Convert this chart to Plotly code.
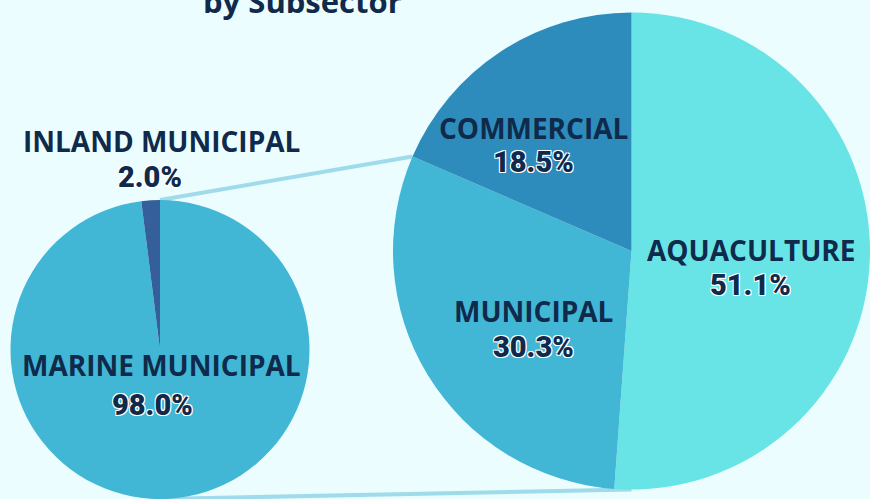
import math
import plotly.graph_objects as go

W, H = 870, 499

# ---- data ----
left_labels = ["MARINE MUNICIPAL", "INLAND MUNICIPAL"]
left_values = [98.0, 2.0]
right_labels = ["AQUACULTURE", "MUNICIPAL", "COMMERCIAL"]
right_values = [51.1, 30.3, 18.5]
title_text = "by Subsector"

# ---- styles ----
BG = "#ebfdfe"
NAVY = "#0f2a4b"
left_colors = ["#42b7d5", "#355f9b"]
right_colors = ["#68e4e7", "#42b7d5", "#2e8cbc"]
LINK = "#9fdbea"

# pie domains in pixels (x0, x1, ytop, ybottom)
L_dom = (10, 310, 200, 499)
R_dom = (393, 870, 11, 491)


def xd(px):
    return px / W


def yd(py):
    return 1 - py / H


fig = go.Figure()
for labels, values, colors, dom in [
    (left_labels, left_values, left_colors, L_dom),
    (right_labels, right_values, right_colors, R_dom),
]:
    fig.add_trace(go.Pie(
        labels=labels, values=values, sort=False, direction="clockwise",
        rotation=0, textinfo="none", hoverinfo="label+value",
        marker=dict(colors=colors, line=dict(width=0)),
        domain=dict(x=[xd(dom[0]), xd(dom[1])], y=[yd(dom[3]), yd(dom[2])]),
        showlegend=False,
    ))


def geom(dom):
    w = dom[1] - dom[0]
    h = dom[3] - dom[2]
    r = min(w, h) / 2
    return (dom[0] + dom[1]) / 2, (dom[2] + dom[3]) / 2, r


lcx, lcy, lr = geom(L_dom)
rcx, rcy, rr = geom(R_dom)

# connector: left pie top -> right pie Municipal/Commercial boundary
frac = sum(right_values[:2]) / sum(right_values)
ang = 2 * math.pi * frac
ex = rcx + rr * math.sin(ang)
ey = rcy - rr * math.cos(ang)
fig.add_shape(type="line", xref="paper", yref="paper",
              x0=xd(lcx), y0=yd(lcy - lr), x1=xd(ex), y1=yd(ey),
              line=dict(color=LINK, width=4), layer="below")
# connector: left pie bottom -> right pie bottom
fig.add_shape(type="line", xref="paper", yref="paper",
              x0=xd(lcx), y0=yd(lcy + lr), x1=xd(rcx), y1=yd(rcy + rr),
              line=dict(color=LINK, width=4), layer="below")

CAT_FONT = dict(family="Open Sans", size=28, color=NAVY, weight=700)
PCT_FONT = dict(family="Roboto", size=29, color=NAVY, weight=900,
                shadow="1px 1px 0 #ffffff, -1px -1px 0 #ffffff, 1px -1px 0 #ffffff, -1px 1px 0 #ffffff")

# label positions (pixels): (cat_x, cat_y, pct_x, pct_y)
label_pos = {
    "INLAND MUNICIPAL": (161, 141, 150, 177),
    "MARINE MUNICIPAL": (161, 365, 152, 405),
    "COMMERCIAL": (533, 128, 533, 162),
    "AQUACULTURE": (751, 250, 750, 285),
    "MUNICIPAL": (533, 311, 533, 347),
}

for labels, values in [(left_labels, left_values), (right_labels, right_values)]:
    for lab, v in zip(labels, values):
        cx, cy, px_, py_ = label_pos[lab]
        fig.add_annotation(text=lab, x=xd(cx), y=yd(cy), xref="paper", yref="paper",
                           showarrow=False, xanchor="center", yanchor="middle", font=CAT_FONT)
        fig.add_annotation(text=f"{v:.1f}%", x=xd(px_), y=yd(py_),
                           xref="paper", yref="paper", showarrow=False,
                           xanchor="center", yanchor="middle", font=PCT_FONT)

fig.add_annotation(text=title_text, x=xd(302), y=yd(1), xref="paper", yref="paper",
                   showarrow=False, xanchor="center", yanchor="middle",
                   font=dict(family="Open Sans", size=31, color=NAVY, weight=700))

fig.update_layout(width=W, height=H, margin=dict(l=0, r=0, t=0, b=0),
                  paper_bgcolor=BG, plot_bgcolor=BG)
fig.write_html("out.html")
